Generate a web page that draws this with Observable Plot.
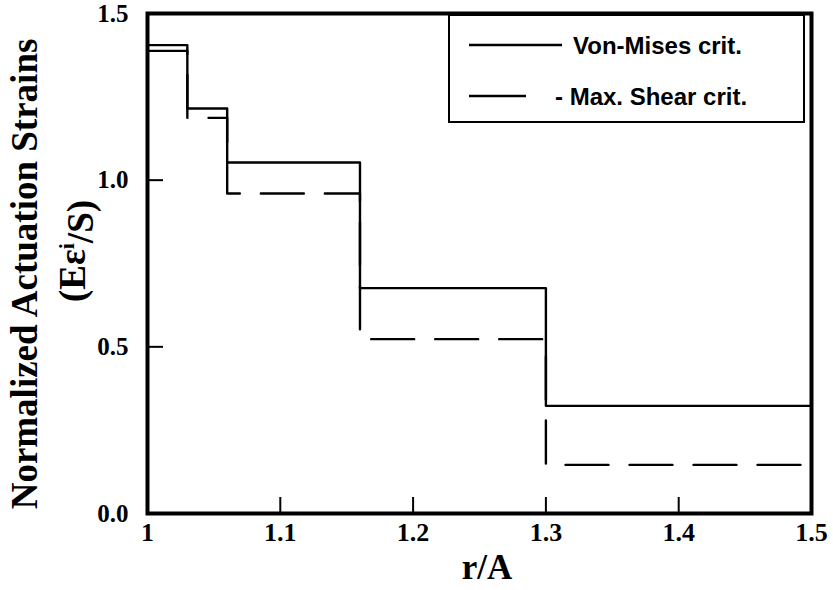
<!DOCTYPE html>
<html><head><meta charset="utf-8">
<script src="https://cdn.jsdelivr.net/npm/d3@7"></script>
<script src="https://cdn.jsdelivr.net/npm/@observablehq/plot@0.6"></script>
<style>html,body{margin:0;padding:0;background:#fff} svg{display:block}</style>
</head><body><div id="chart"></div>
<script>
// Data
const rBreaks  = [1, 1.03, 1.06, 1.16, 1.3, 1.5];
const vonMises = [1.405, 1.215, 1.053, 0.676, 0.323, 0.323];
const maxShear = [1.388, 1.187, 0.960, 0.523, 0.146, 0.146];
const xTicks = [1, 1.1, 1.2, 1.3, 1.4, 1.5];
const yTicks = [0.0, 0.5, 1.0, 1.5];
const innerXTicks = [1.1, 1.2, 1.3, 1.4];
const innerYTicks = [0.5, 1.0];
const seriesNames = ["Von-Mises crit.", "- Max. Shear crit."];
const xLabel = "r/A";
const yLabel1 = "Normalized Actuation Strains";

const W = 833, H = 590, mL = 147, mR = 22, mT = 13, mB = 77;
const innerW = W - mL - mR, innerH = H - mT - mB;
const serif = "'Liberation Serif', 'Times New Roman', serif";
const sans = "'Liberation Sans', Arial, Helvetica, sans-serif";

const vm = rBreaks.map((r, i) => ({r, v: vonMises[i]}));
const ms = rBreaks.map((r, i) => ({r, v: maxShear[i]}));

const chart = Plot.plot({
  width: W, height: H,
  marginLeft: mL, marginRight: mR, marginTop: mT, marginBottom: mB,
  style: {background: "#fff", color: "#000", overflow: "visible"},
  x: {domain: [1, 1.5], axis: null},
  y: {domain: [0, 1.5], axis: null},
  marks: [
    // tick labels drawn through the x / y scales
    Plot.text(xTicks, {x: d => d, frameAnchor: "bottom", text: d => String(d), dy: 19,
      lineAnchor: "middle", fontSize: 26, fontFamily: serif, fontWeight: "bold", fill: "#000"}),
    Plot.text(yTicks, {y: d => d, frameAnchor: "left", text: d => d3.format(".1f")(d), dx: -19,
      textAnchor: "end", lineAnchor: "middle", fontSize: 25, fontFamily: serif, fontWeight: "bold", fill: "#000"}),
    Plot.tickX(innerXTicks, {x: d => d, insetTop: innerH - 16, strokeWidth: 2}),
    Plot.tickY(innerYTicks, {y: d => d, insetRight: innerW - 16, strokeWidth: 2}),
    Plot.line(vm, {x: "r", y: "v", curve: "step-after", strokeWidth: 2.4, stroke: "#000"}),
    Plot.line(ms, {x: "r", y: "v", curve: "step-after", strokeWidth: 2.4, stroke: "#000", strokeDasharray: "43,21"}),
    Plot.frame({strokeWidth: 4, stroke: "#000"})
  ]
});
document.getElementById("chart").appendChild(chart);

const svg = d3.select(chart);

// axis titles
svg.append("text")
  .attr("transform", "translate(37,274) rotate(-90)")
  .attr("text-anchor", "middle")
  .attr("font-family", serif).attr("font-weight", "bold").attr("font-size", 37)
  .attr("fill", "#000")
  .text(yLabel1);
const t2 = svg.append("text")
  .attr("transform", "translate(85,251) rotate(-90)")
  .attr("text-anchor", "middle")
  .attr("font-family", serif).attr("font-weight", "bold").attr("font-size", 37)
  .attr("fill", "#000");
t2.append("tspan").text("(E\u03B5");
t2.append("tspan").attr("dy", "-0.5em").attr("font-size", 22).text("i");
t2.append("tspan").attr("dy", "0.5em").text("/S)");

svg.append("text")
  .attr("x", 487).attr("y", 579)
  .attr("text-anchor", "middle")
  .attr("font-family", serif).attr("font-weight", "bold").attr("font-size", 35)
  .attr("fill", "#000")
  .text(xLabel);

// legend
const lg = svg.append("g").attr("text-anchor", "start");
lg.append("rect").attr("x", 449).attr("y", 15).attr("width", 355).attr("height", 107)
  .attr("fill", "#fff").attr("stroke", "#000").attr("stroke-width", 2);
lg.append("line").attr("x1", 469).attr("x2", 562).attr("y1", 45).attr("y2", 45)
  .attr("stroke", "#000").attr("stroke-width", 2.6);
lg.append("line").attr("x1", 469).attr("x2", 526).attr("y1", 96).attr("y2", 96)
  .attr("stroke", "#000").attr("stroke-width", 2.6);
lg.append("text").attr("x", 573).attr("y", 45).attr("dy", "0.36em").attr("text-anchor", "start")
  .attr("font-family", sans).attr("font-weight", "bold").attr("font-size", 24).attr("fill", "#000")
  .text(seriesNames[0]);
lg.append("text").attr("x", 555).attr("y", 96).attr("dy", "0.36em").attr("text-anchor", "start")
  .attr("font-family", sans).attr("font-weight", "bold").attr("font-size", 24).attr("fill", "#000")
  .text(seriesNames[1]);
</script>
</body></html>
